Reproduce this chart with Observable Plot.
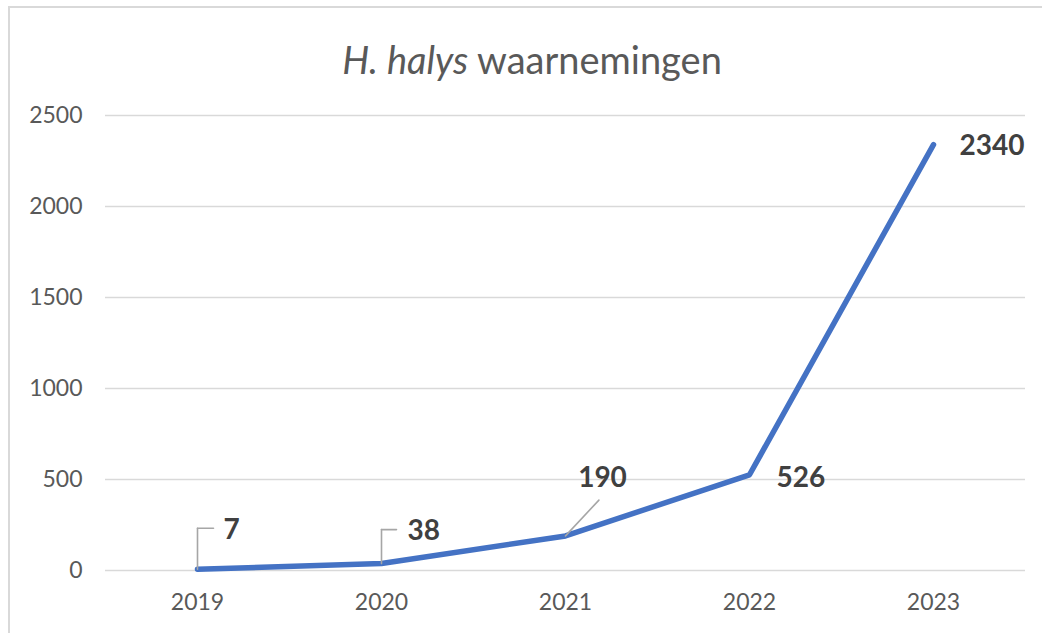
<!DOCTYPE html>
<html>
<head>
<meta charset="utf-8">
<script src="https://cdn.jsdelivr.net/npm/d3@7"></script>
<script src="https://cdn.jsdelivr.net/npm/@observablehq/plot@0.6"></script>
<style>
  html, body { margin: 0; padding: 0; background: #fff; }
  #wrap { position: relative; width: 1042px; height: 633px; overflow: hidden; font-family: Lato, "Open Sans", sans-serif; }
  #wrap svg { position: absolute; left: 0; top: 0; }
  #title { position: absolute; left: 22px; top: 37px; width: 1020px; text-align: center; font-size: 38px; line-height: 44px; color: #595959; }
  #frame { position: absolute; left: 8px; top: 6px; width: 1100px; height: 700px; border-left: 2px solid #d9d9d9; border-top: 2px solid #d9d9d9; pointer-events: none; }
</style>
</head>
<body>
<div id="wrap">
  <div id="title"><i>H. halys</i> waarnemingen</div>
  <div id="frame"></div>
</div>
<script>
const years = ["2019", "2020", "2021", "2022", "2023"];
const counts = [7, 38, 190, 526, 2340];
const yTicks = [0, 500, 1000, 1500, 2000, 2500];

const data = years.map((year, i) => ({year, count: counts[i]}));

// label placement (pixel offsets from each point) and leader lines
const labelLayout = [
  {dx: 26, dy: -39, anchor: "start", leader: [{len: 41, rot: 0, dy: 0}, {len: 16, rot: 90, dy: -41}]},
  {dx: 26, dy: -33, anchor: "start", leader: [{len: 34, rot: 0, dy: 0}, {len: 15, rot: 90, dy: -34}]},
  {dx: 37, dy: -58, anchor: "middle", leader: [{len: 49, rot: 43, dy: 0}]},
  {dx: 27, dy: 3, anchor: "start", leader: []},
  {dx: 26, dy: 1, anchor: "start", leader: []}
];

const labelMarks = [];
data.forEach((d, i) => {
  const L = labelLayout[i];
  L.leader.forEach(seg => {
    labelMarks.push(Plot.vector([d], {
      x: "year", y: "count", length: seg.len, rotate: seg.rot, anchor: "start",
      dy: seg.dy, r: 0, stroke: "#a6a6a6", strokeWidth: 1.6
    }));
  });
  labelMarks.push(Plot.text([d], {
    x: "year", y: "count", text: dd => String(dd.count),
    dx: L.dx, dy: L.dy, textAnchor: L.anchor, lineAnchor: "middle",
    fontSize: 28, fontWeight: "bold", fill: "#404040"
  }));
});

const chart = Plot.plot({
  width: 1042,
  height: 633,
  marginLeft: 105,
  marginRight: 17,
  marginTop: 115,
  marginBottom: 63,
  style: {background: "transparent", fontFamily: "Lato, 'Open Sans', sans-serif", color: "#595959"},
  x: {type: "point", domain: years, padding: 0.5},
  y: {domain: [0, 2500]},
  marks: [
    Plot.gridY(yTicks, {stroke: "#d9d9d9", strokeOpacity: 1, strokeWidth: 1.3}),
    Plot.axisY(yTicks, {tickSize: 0, tickPadding: 23, tickFormat: d => String(d), fontSize: 23, fill: "#595959", label: null}),
    Plot.axisX({tickSize: 0, tickPadding: 23, fontSize: 23, fill: "#595959", label: null}),
    Plot.line(data, {x: "year", y: "count", stroke: "#4472C4", strokeWidth: 5.5, strokeLinecap: "round", strokeLinejoin: "round"}),
    ...labelMarks
  ]
});

const wrap = document.getElementById("wrap");
wrap.insertBefore(chart, wrap.firstChild);
</script>
</body>
</html>
